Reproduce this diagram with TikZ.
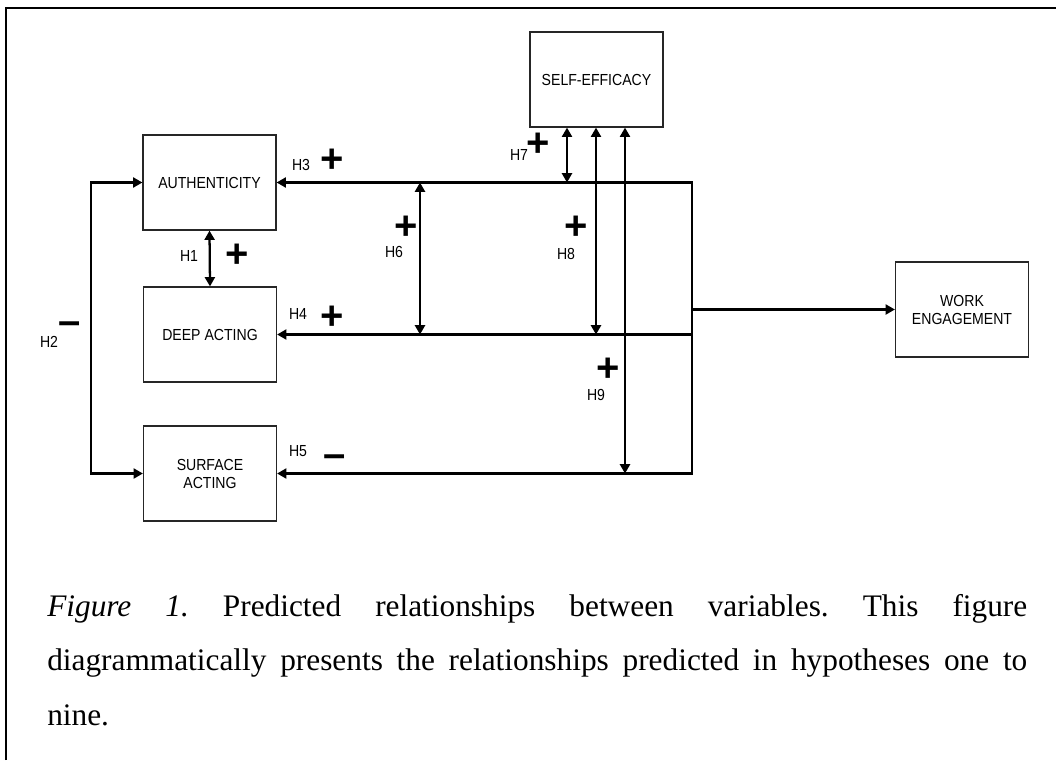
\documentclass[tikz,border=0pt]{standalone}
\usepackage{fontspec}
\setmainfont{Liberation Serif}
\newfontfamily\labelfont[FakeStretch=0.88]{Liberation Sans}
\newfontfamily\signfont{Liberation Sans}
\usetikzlibrary{arrows.meta}
\begin{document}
\frenchspacing
\begin{tikzpicture}[x=0.75pt,y=-0.75pt,
  box/.style={draw=black!85,line width=0.9pt,minimum width=99.75pt,minimum height=71.25pt,inner sep=0pt,align=center,font=\labelfont\fontsize{12}{13.5}\selectfont},
  tip/.tip={Triangle[length=7pt,width=7.5pt]},
  conn/.style={line width=1.7pt,-tip},
  bi/.style={line width=1.7pt,tip-tip},
  hlab/.style={font=\labelfont\fontsize{12}{13.5}\selectfont,inner sep=0pt},
  sign/.style={font=\signfont\bfseries\fontsize{30}{30}\selectfont,inner sep=0pt},
  captext/.style={font=\fontsize{23.5}{28}\selectfont,anchor=base west,inner sep=0pt}]
\useasboundingbox (0,0) rectangle (1056,760);
% frame
\draw[line width=1.8pt] (6,760) -- (6,8) -- (1056,8);

% boxes
\node[box] (se) at (596.5,79.5) {SELF-EFFICACY};
\node[box] (auth) at (209.5,182.5) {AUTHENTICITY};
\node[box] (deep) at (210,334.5) {DEEP ACTING};
\node[box] (surf) at (210,473.5) {SURFACE\\ACTING};
\node[box] (work) at (962,309.5) {WORK\\ENGAGEMENT};

% bus coordinates
\coordinate (bt) at (692,182.5);
\coordinate (bd) at (692,334.5);
\coordinate (bm) at (692,309.5);
\coordinate (bb) at (692,473.5);
\coordinate (h2c) at (91,330);
\coordinate (h6a) at (420,182.5);
\coordinate (h6b) at (420,334.5);
\coordinate (h7b) at (567,182.5);
\coordinate (h8b) at (596,334.5);
\coordinate (h9b) at (625,473.5);

% connectors
\draw[bi] (auth.east) -- (bt) -- (bb) -- (surf.east);
\draw[conn] (bd) -- (deep.east);
\draw[conn] (bm) -- (work.west);
\draw[bi] (auth.west) -| (h2c) |- (surf.west);
\draw[bi] (auth.south) -- (deep.north);
\draw[bi] (h6a) -- (h6b);
\draw[bi] (se.south -| h7b) -- (h7b);
\draw[bi] (se.south -| h8b) -- (h8b);
\draw[bi] (se.south -| h9b) -- (h9b);

% labels
\node[hlab] (l1) at (189,256) {H1};
\node[sign] (s1) at (237,256) {+};
\node[hlab] (l2) at (49,342) {H2};
\node[sign] (s2) at (70,328) {–};
\node[hlab] (l3) at (301,165) {H3};
\node[sign] (s3) at (332,161) {+};
\node[hlab] (l4) at (298,314) {H4};
\node[sign] (s4) at (332,318) {+};
\node[hlab] (l5) at (298,451) {H5};
\node[sign] (s5) at (335,461) {–};
\node[hlab] (l6) at (394,252) {H6};
\node[sign] (s6) at (406,228) {+};
\node[hlab] (l7) at (519,155) {H7};
\node[sign] (s7) at (538,145) {+};
\node[hlab] (l8) at (566,254) {H8};
\node[sign] (s8) at (576,228) {+};
\node[hlab] (l9) at (596,395) {H9};
\node[sign] (s9) at (608,370) {+};

% caption
\node[captext] (c1) at (47,616) {\makebox[735pt][s]{\textit{Figure 1.} Predicted relationships between variables. This figure}};
\node[captext] (c2) at (47,670) {\makebox[735pt][s]{diagrammatically presents the relationships predicted in hypotheses one to}};
\node[captext] (c3) at (47,725) {nine.};
\end{tikzpicture}
\end{document}
